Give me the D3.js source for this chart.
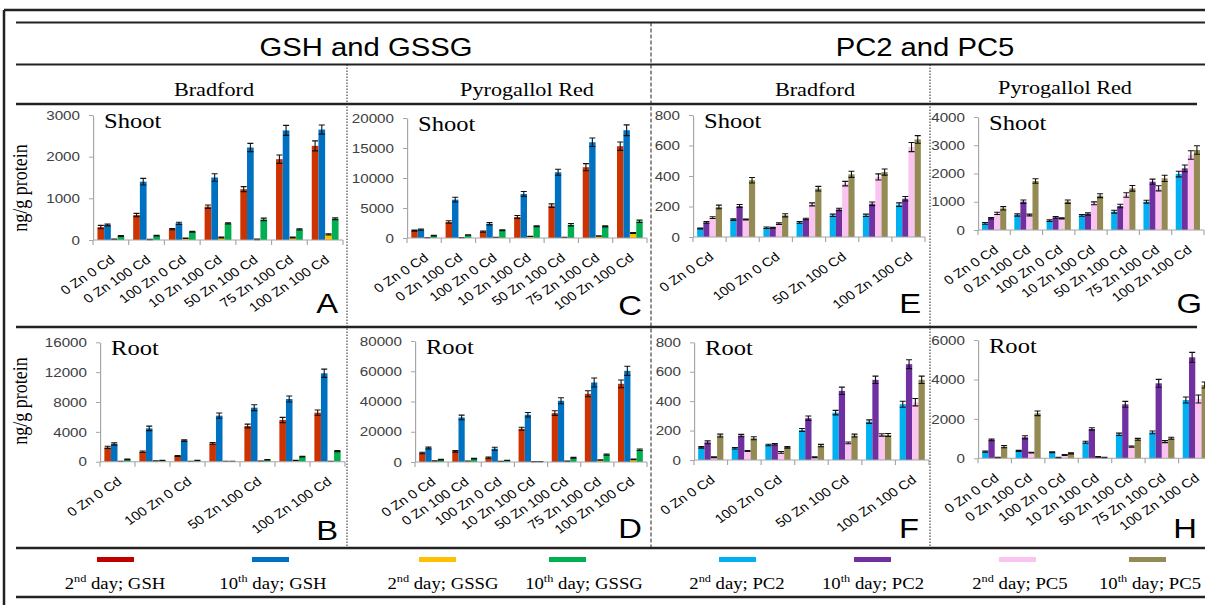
<!DOCTYPE html>
<html><head><meta charset="utf-8">
<script src="https://cdn.jsdelivr.net/npm/d3@7"></script>
<style>body{margin:0;background:#fff}svg{display:block}</style>
</head><body><script>
// ---------------- DATA ----------------
const categories = ["0 Zn 0 Cd","0 Zn 100 Cd","100 Zn 0 Cd","10 Zn 100 Cd","50 Zn 100 Cd","75 Zn 100 Cd","100 Zn 100 Cd"];
const seriesNames = ["2nd day; GSH","10th day; GSH","2nd day; GSSG","10th day; GSSG","2nd day; PC2","10th day; PC2","2nd day; PC5","10th day; PC5"];
const seriesColors = ["#cc3300","#0070c0","#ffc000","#00b050","#00b0f0","#7030a0","#fbc4f0","#948a54"];
const legendColors = ["#c00000","#0070c0","#ffc000","#00b050","#00b0f0","#7030a0","#fbc4f0","#948a54"];
const groupTitles = ["GSH and GSSG","PC2 and PC5"];
const methodTitles = ["Bradford","Pyrogallol Red","Bradford","Pyrogallol Red"];
const yTitle = "ng/g protein";

// A: Shoot, Bradford, GSH/GSSG
const A_ticks = [0,1000,2000,3000];
const A_gsh2  = [310,600,260,800,1220,1940,2260];
const A_gsh10 = [360,1400,400,1500,2220,2630,2650];
const A_gssg2 = [20,10,40,60,15,60,135];
const A_gssg10= [95,105,200,400,495,255,510];
const A_err = [[40,40,15,40,60,100,120],[20,80,25,90,100,120,110],[5,5,5,10,5,10,15],[10,10,10,15,30,15,20]];
// C: Shoot, Pyrogallol Red, GSH/GSSG
const C_ticks = [0,5000,10000,15000,20000];
const C_gsh2  = [1220,2670,1060,3500,5390,11800,15300];
const C_gsh10 = [1390,6390,2390,7340,10950,15960,17960];
const C_gssg2 = [50,50,110,280,100,330,830];
const C_gssg10= [390,500,1280,1950,2220,1950,2780];
const C_err = [[100,200,100,250,300,600,700],[100,400,200,400,500,700,900],[20,20,20,20,20,50,80],[40,50,80,80,200,100,200]];
// E: Shoot, Bradford, PC2/PC5
const E_ticks = [0,200,400,600,800];
const E_pc2d2  = [55,114,61,96,142,142,212];
const E_pc2d10 = [96,203,61,118,181,218,251];
const E_pc5d2  = [127,114,88,214,350,394,590];
const E_pc5d10 = [197,372,142,317,411,426,640];
const E_err = [[3,5,5,6,8,8,12],[6,10,3,5,8,12,15],[6,3,5,10,15,20,30],[12,18,10,15,20,20,25]];
// G: Shoot, Pyrogallol Red, PC2/PC5
const G_ticks = [0,1000,2000,3000,4000];
const G_pc2d2  = [236,531,330,519,649,1003,1982];
const G_pc2d10 = [413,1003,448,566,850,1711,2183];
const G_pc5d2  = [590,531,413,944,1239,1475,2655];
const G_pc5d10 = [767,1735,1003,1215,1475,1829,2832];
const G_err = [[30,40,30,30,50,50,100],[25,60,30,40,60,90,120],[40,30,20,50,80,90,150],[60,80,60,70,100,110,150]];
// B: Root, Bradford, GSH/GSSG
const B_ticks = [0,4000,8000,12000,16000];
const B_gsh2  = [1920,1340,760,2460,4780,5590,6570];
const B_gsh10 = [2370,4470,2820,6170,7240,8400,11850];
const B_gssg2 = [40,90,50,30,60,180,50];
const B_gssg10= [310,180,180,30,270,670,1430];
const B_err = [[150,100,50,120,250,350,350],[150,300,100,350,400,400,550],[20,20,10,10,20,20,20],[30,20,20,10,30,40,80]];
// D: Root, Pyrogallol Red, GSH/GSSG
const D_ticks = [0,20000,40000,60000,80000];
const D_gsh2  = [5940,7040,2860,22000,32340,45100,51700];
const D_gsh10 = [9240,29480,8800,31240,40480,52580,60280];
const D_gssg2 = [700,600,400,300,500,1300,1760];
const D_gssg10= [1540,2200,1100,300,2860,4840,8140];
const D_err = [[500,500,400,1000,1500,2000,2500],[600,1500,1000,1500,2000,3000,3000],[100,100,100,50,100,150,200],[200,200,100,50,300,400,500]];
// F: Root, Bradford, PC2/PC5
const F_ticks = [0,200,400,600,800];
const F_pc2d2  = [86,80,102,204,322,261,379];
const F_pc2d10 = [120,166,107,284,470,545,651];
const F_pc5d2  = [18,61,52,18,116,170,393];
const F_pc5d10 = [166,148,86,98,166,170,545];
const F_err = [[5,5,5,10,15,12,20],[10,8,5,15,25,25,30],[3,3,6,3,6,8,25],[10,10,5,8,10,10,25]];
// H: Root, Pyrogallol Red, PC2/PC5
const H_ticks = [0,2000,4000,6000];
const H_pc2d2  = [338,372,304,811,1217,1318,2958];
const H_pc2d10 = [930,1065,30,1487,2738,3803,5121];
const H_pc5d2  = [34,287,169,68,592,845,3008];
const H_pc5d10 = [592,2282,254,34,963,1014,3718];
const H_err = [[30,30,20,50,60,70,150],[40,80,20,60,150,200,250],[20,20,20,20,30,50,200],[60,120,30,20,50,50,150]];

// ---------------- LAYOUT ----------------
const W = 1205, H = 605, SX = 1.17;
const X = v => v / SX;
const svg = d3.select("body").append("svg").attr("width", W).attr("height", H);
svg.append("rect").attr("width", W).attr("height", H).attr("fill", "#fff");
const root = svg.append("g").attr("transform", `scale(${SX},1)`);

const panels = [
  {letter:"A", organ:"Shoot", x0:93,  x1:343,  yb:240,   yt:115,   ticks:A_ticks, vals:[A_gsh2,A_gsh10,A_gssg2,A_gssg10], err:A_err, c0:0, step:1, lx:338,  ly:313},
  {letter:"C", organ:"Shoot", x0:407, x1:647,  yb:238,   yt:118,   ticks:C_ticks, vals:[C_gsh2,C_gsh10,C_gssg2,C_gssg10], err:C_err, c0:0, step:1, lx:642,  ly:315},
  {letter:"E", organ:"Shoot", x0:693, x1:925,  yb:237,   yt:115,   ticks:E_ticks, vals:[E_pc2d2,E_pc2d10,E_pc5d2,E_pc5d10], err:E_err, c0:4, step:2, lx:921,  ly:313},
  {letter:"G", organ:"Shoot", x0:978, x1:1204, yb:230,   yt:117,   ticks:G_ticks, vals:[G_pc2d2,G_pc2d10,G_pc5d2,G_pc5d10], err:G_err, c0:4, step:1, lx:1202, ly:313},
  {letter:"B", organ:"Root",  x0:100, x1:345,  yb:461.7, yt:342.3, ticks:B_ticks, vals:[B_gsh2,B_gsh10,B_gssg2,B_gssg10], err:B_err, c0:0, step:2, lx:338,  ly:540},
  {letter:"D", organ:"Root",  x0:415, x1:647,  yb:462,   yt:341,   ticks:D_ticks, vals:[D_gsh2,D_gsh10,D_gssg2,D_gssg10], err:D_err, c0:0, step:1, lx:642,  ly:538},
  {letter:"F", organ:"Root",  x0:694, x1:929,  yb:460,   yt:342.3, ticks:F_ticks, vals:[F_pc2d2,F_pc2d10,F_pc5d2,F_pc5d10], err:F_err, c0:4, step:2, lx:919,  ly:538},
  {letter:"H", organ:"Root",  x0:978, x1:1212, yb:458.3, yt:340,   ticks:H_ticks, vals:[H_pc2d2,H_pc2d10,H_pc5d2,H_pc5d10], err:H_err, c0:4, step:1, lx:1197, ly:538}
];

// frame lines
const hLines = [[4,10,1205,10,2.5],[16,22.5,1205,22.5,2],[16,64.5,1205,64.5,2],[16,104,1197,104,2.5],[16,327,1197,327,2.5],[16,548,1205,548,2.5],[16,597,1205,597,2.5]];
hLines.forEach(l => root.append("line").attr("x1",X(l[0])).attr("y1",l[1]).attr("x2",X(l[2])).attr("y2",l[3])
  .attr("stroke","#222").attr("stroke-width",l[4]).attr("vector-effect","non-scaling-stroke"));
root.append("line").attr("x1",X(4)).attr("x2",X(4)).attr("y1",10).attr("y2",605).attr("stroke","#222").attr("stroke-width",2.5).attr("vector-effect","non-scaling-stroke");
root.append("line").attr("x1",X(651)).attr("x2",X(651)).attr("y1",22.5).attr("y2",548).attr("stroke","#222").attr("stroke-width",1).attr("stroke-dasharray","4,2").attr("vector-effect","non-scaling-stroke");
[347,930].forEach(xv => root.append("line").attr("x1",X(xv)).attr("x2",X(xv)).attr("y1",64.5).attr("y2",548).attr("stroke","#222").attr("stroke-width",1).attr("stroke-dasharray","1.5,1.5").attr("vector-effect","non-scaling-stroke"));

// headers
[[366,groupTitles[0]],[925,groupTitles[1]]].forEach(d => root.append("text").attr("x",X(d[0])).attr("y",56)
  .attr("text-anchor","middle").attr("font-family","Liberation Sans, Arial, sans-serif").attr("font-size",25).attr("fill","#000").text(d[1]));
[214,527,815,1065].forEach((cx,i) => root.append("text").attr("x",X(cx)).attr("y",i===3?94:96)
  .attr("text-anchor","middle").attr("font-family","Liberation Serif, Times New Roman, serif").attr("font-size",19).attr("fill","#000").text(methodTitles[i]));

// y titles
[188,401].forEach(cy => root.append("text").attr("transform",`translate(${X(27)},${cy}) rotate(-90)`)
  .attr("text-anchor","middle").attr("font-family","Liberation Serif, Times New Roman, serif").attr("font-size",18).attr("fill","#000").text(yTitle));

// panels
panels.forEach(p => {
  const g = root.append("g");
  const x = d3.scaleBand().domain(categories).range([X(p.x0), X(p.x1)]).paddingInner(0.25).paddingOuter(0.125);
  const y = d3.scaleLinear().domain([0, p.ticks[p.ticks.length-1]]).range([p.yb, p.yt]);
  const sub = d3.scaleBand().domain(d3.range(4)).range([0, x.bandwidth()]);

  // y axis
  const ya = g.append("g").attr("transform",`translate(${X(p.x0)},0)`)
    .call(d3.axisLeft(y).tickValues(p.ticks).tickSizeOuter(0).tickSizeInner(X(4)).tickPadding(X(9)).tickFormat(d3.format("d")));
  ya.select(".domain").attr("stroke","#a6a6a6");
  ya.selectAll(".tick line").attr("stroke","#a6a6a6");
  ya.selectAll(".tick text").attr("fill","#404040").attr("font-size",13).attr("font-family","Liberation Sans, Arial, sans-serif");

  // bars
  p.vals.forEach((vals, s) => {
    g.selectAll(null).data(vals).join("rect")
      .attr("x",(v,i) => x(categories[i]) + sub(s)).attr("width", sub.bandwidth())
      .attr("y", v => y(v)).attr("height", v => y(0) - y(v))
      .attr("fill", seriesColors[p.c0 + s]);
  });
  // error bars
  p.vals.forEach((vals, s) => {
    vals.forEach((v, i) => {
      const e = p.err[s][i];
      const cx = x(categories[i]) + sub(s) + sub.bandwidth()/2;
      const lo = y(Math.max(0, v - e)), hi = y(v + e);
      const cw = X(3);
      g.append("path").attr("d", `M${cx},${lo}V${hi}M${cx-cw},${hi}H${cx+cw}M${cx-cw},${lo}H${cx+cw}`)
        .attr("stroke","#111").attr("stroke-width",1.1).attr("fill","none").attr("vector-effect","non-scaling-stroke");
    });
  });

  // x axis
  const y0 = y(0);
  g.append("line").attr("x1",X(p.x0)).attr("x2",X(p.x1)).attr("y1",y0).attr("y2",y0).attr("stroke","#a6a6a6");
  categories.forEach((c,i) => {
    const bx = X(p.x0) + i * x.step();
    g.append("line").attr("x1",bx).attr("x2",bx).attr("y1",y0).attr("y2",y0+5).attr("stroke","#a6a6a6");
  });
  const last = X(p.x0) + categories.length * x.step();
  g.append("line").attr("x1",last).attr("x2",last).attr("y1",y0).attr("y2",y0+5).attr("stroke","#a6a6a6");
  categories.forEach((c,i) => {
    if (i % p.step !== 0) return;
    const cx = x(c) + x.bandwidth()/2;
    g.append("text").attr("transform",`translate(${cx + X(2)},${y0 + 18}) rotate(-38)`)
      .attr("text-anchor","end").attr("dy","0.35em")
      .attr("font-family","Liberation Sans, Arial, sans-serif").attr("font-size",12.5).attr("fill","#000").text(c);
  });

  // organ label and panel letter
  g.append("text").attr("x", X(p.x0 + 11)).attr("y", p.yt + 13)
    .attr("font-family","Liberation Serif, Times New Roman, serif").attr("font-size",21).attr("fill","#000").text(p.organ);
  g.append("text").attr("x", X(p.lx)).attr("y", p.ly).attr("text-anchor","end")
    .attr("font-family","Liberation Sans, Arial, sans-serif").attr("font-size",28).attr("fill","#000").text(p.letter);
});

// legend
const legendSwatchX = [115,270,437,567,737,872,1017,1147];
const legendTextX = [115,273,443,584,737,873,1020,1150];
seriesNames.forEach((name, i) => {
  root.append("rect").attr("x", X(legendSwatchX[i] - 18)).attr("width", X(37)).attr("y", 557).attr("height", 5)
    .attr("fill", legendColors[i]);
  const m = name.match(/^(\d+)(nd|th)(.*)$/);
  const t = root.append("text").attr("x", X(legendTextX[i])).attr("y", 589).attr("text-anchor","middle")
    .attr("font-family","Liberation Serif, Times New Roman, serif").attr("font-size",16).attr("fill","#000");
  t.append("tspan").text(m[1]);
  t.append("tspan").attr("font-size",10.5).attr("dy",-7).text(m[2]);
  t.append("tspan").attr("dy",7).text(m[3]);
});
</script></body></html>
